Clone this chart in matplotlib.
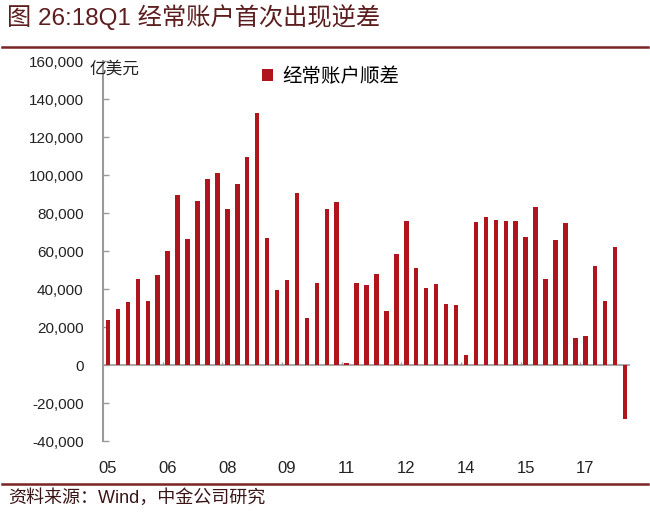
import matplotlib
matplotlib.use("Agg")
import matplotlib.pyplot as plt
from matplotlib.lines import Line2D
from matplotlib.ticker import FuncFormatter

plt.rcParams['font.family'] = ['Liberation Sans', 'Noto Sans CJK SC']

# quarterly current account surplus, 2005Q1 - 2018Q1
quarters = ["%02dQ%d" % (y, q) for y in range(5, 19) for q in range(1, 5)][:53]
surplus = [23800, 29500, 33300, 45400, 33800, 47400, 60200, 89600,
           66500, 86500, 98200, 101000, 82100, 95300, 109500, 133000,
           67200, 39600, 45000, 90500, 24900, 43500, 82400, 86100,
           1000, 43500, 42300, 48200, 28600, 58700, 75800, 51200,
           40700, 42600, 32300, 31700, 5400, 75300, 78200, 76300,
           75900, 76100, 67700, 83500, 45600, 65900, 75100, 14500,
           15400, 52300, 34000, 62100, -28100]
label_every = 6
yticks = list(range(-40000, 160001, 20000))

title = "图 26:18Q1 经常账户首次出现逆差"
source = "资料来源：Wind，中金公司研究"
unit = "亿美元"
series_name = "经常账户顺差"

bar_color = "#B0141C"
frame_color = "#7a2424"
axis_gray = "#9a9a9a"

fig = plt.figure(figsize=(6.5, 5.19), dpi=100)
ax = fig.add_axes([0.1585, 0.1497, 0.8108, 0.7322])

x = list(range(len(surplus)))
ax.bar(x, surplus, width=0.45, color=bar_color, label=series_name, zorder=3)

ax.set_xlim(-0.5, len(surplus) - 0.5)
ax.set_ylim(-40000, 160000)

# zero line + small category boundary ticks
ax.axhline(0, color=axis_gray, lw=1.2, zorder=2)
bounds = [i - 0.5 for i in x if i % label_every == 0 and i > 0]
ax.vlines(bounds, 0, 1600, color=axis_gray, lw=1, zorder=2)

tick_pos = [i for i in x if i % label_every == 0]
ax.set_xticks(tick_pos)
ax.set_xticklabels([quarters[i][:2] for i in tick_pos])
ax.tick_params(axis="x", length=0, pad=14, labelsize=12, labelcolor="#222222")

ax.set_yticks(yticks)
ax.yaxis.set_major_formatter(FuncFormatter(lambda v, p: "{:,.0f}".format(v)))
ax.tick_params(axis="y", direction="in", length=4, width=1, color=axis_gray,
               pad=14, labelsize=11, labelcolor="#222222")

for s in ["top", "right", "bottom"]:
    ax.spines[s].set_visible(False)
ax.spines["left"].set_color(axis_gray)
ax.spines["left"].set_linewidth(1.5)

ax.text(-0.025, 0.98, unit, transform=ax.transAxes, fontsize=12,
        ha="left", va="center", color="#222222")

ax.legend(loc="upper left", bbox_to_anchor=(0.295, 0.995), frameon=False,
          fontsize=14, handlelength=0.55, handleheight=0.55, handletextpad=0.45,
          borderaxespad=0, borderpad=0.2)

# header / footer
fig.text(0.011, 0.968, title, fontsize=17.5, color="#5c1e1e", ha="left", va="center")
fig.add_artist(Line2D([0.003, 0.997], [0.910, 0.910], color=frame_color, lw=1.8))
fig.add_artist(Line2D([0.003, 0.997], [0.0674, 0.0674], color=frame_color, lw=1.8))
fig.text(0.012, 0.040, source, fontsize=13, color="#3a1515", ha="left", va="center")

fig.savefig("out.png", dpi=100, facecolor="white")
